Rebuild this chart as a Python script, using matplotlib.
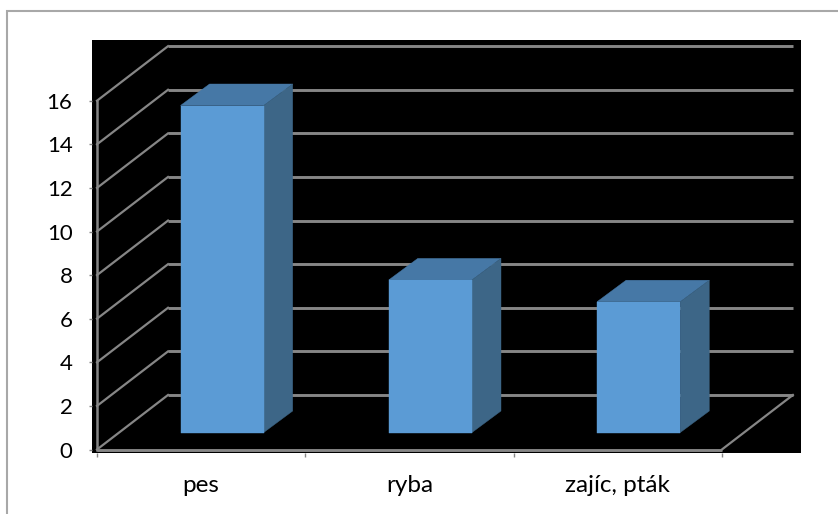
import matplotlib
matplotlib.use("Agg")
import matplotlib.pyplot as plt
from matplotlib.lines import Line2D
from matplotlib.patches import Polygon, Rectangle

categories = ["pes", "ryba", "zajíc, pták"]
values = [15, 7, 6]
y_ticks = [0, 2, 4, 6, 8, 10, 12, 14, 16]

W, H = 838, 514
GRID = "#868686"
FRONT = "#5b9bd5"
TOP = "#4678a6"
SIDE = "#3d6687"

# pixel geometry of the plot
LEFT, RIGHT, TOP_PX, BOTTOM = 92, 801, 40, 453
X0, CAT_W = 97, 208.3
Y0, UNIT = 449.5, 21.8

# oblique offsets in data units
DEPTH_X, DEPTH_Y = 71 / CAT_W, 54.5 / UNIT
BAR_W, BAR_GAP = 83.2 / CAT_W, 61.5 / CAT_W
BAR_DX, BAR_DY = 29 / CAT_W, 21.5 / UNIT
BAR_OFF_X, BAR_OFF_Y = 22 / CAT_W, 17 / UNIT

plt.rcParams["font.family"] = ["Lato", "DejaVu Sans"]

fig = plt.figure(figsize=(W / 100, H / 100), dpi=100)
ax = fig.add_axes([LEFT / W, 1 - BOTTOM / H, (RIGHT - LEFT) / W, (BOTTOM - TOP_PX) / H])
ax.set_facecolor("black")
ax.set_xlim((LEFT - X0) / CAT_W, (RIGHT - X0) / CAT_W)
ax.set_ylim((Y0 - BOTTOM) / UNIT, (Y0 - TOP_PX) / UNIT)
for s in ax.spines.values():
    s.set_visible(False)

n = len(categories)

# back wall and side wall grid
for v in y_ticks:
    ax.plot([DEPTH_X, n + DEPTH_X], [v + DEPTH_Y, v + DEPTH_Y],
            color=GRID, lw=2.1, solid_capstyle="butt", zorder=1)
    ax.plot([0, DEPTH_X], [v, v + DEPTH_Y], color=GRID, lw=1.6, zorder=1)

# floor and front axes
ax.plot([0, n], [0, 0], color=GRID, lw=2.1, solid_capstyle="butt", zorder=1)
ax.plot([n, n + DEPTH_X], [0, DEPTH_Y], color=GRID, lw=1.6, zorder=1)
ax.plot([0, 0], [0, y_ticks[-1]], color=GRID, lw=1.8, zorder=1)

for i, v in enumerate(values):
    x1 = i + BAR_GAP + BAR_OFF_X
    x2 = x1 + BAR_W
    y1 = BAR_OFF_Y
    y2 = y1 + v
    ax.add_patch(Polygon([(x1, y2), (x2, y2), (x2 + BAR_DX, y2 + BAR_DY), (x1 + BAR_DX, y2 + BAR_DY)],
                         fc=TOP, ec=TOP, lw=0.3, zorder=3))
    ax.add_patch(Polygon([(x2, y1), (x2 + BAR_DX, y1 + BAR_DY), (x2 + BAR_DX, y2 + BAR_DY), (x2, y2)],
                         fc=SIDE, ec=SIDE, lw=0.3, zorder=3))
    ax.add_patch(Rectangle((x1, y1), BAR_W, v, fc=FRONT, ec=FRONT, lw=0.3, zorder=4))

ax.set_yticks(y_ticks)
ax.tick_params(axis="y", length=2.5, width=1, color=GRID, labelsize=16, pad=11.5, labelcolor="black")
ax.set_xticks(range(n + 1))
ax.set_xticklabels([""] * (n + 1))
ax.set_xticks([i + 0.5 for i in range(n)], minor=True)
ax.set_xticklabels(categories, minor=True)
ax.tick_params(axis="x", which="major", length=3, width=1, color=GRID)
ax.tick_params(axis="x", which="minor", length=0, labelsize=17.5, pad=15.5, labelcolor="black")

# chart frame, only the top and left edges show in the crop
fig.add_artist(Line2D([7 / W, 7 / W, 1], [0, 1 - 10.5 / H, 1 - 10.5 / H], transform=fig.transFigure,
                      color="#a8a8a8", lw=1.5, solid_joinstyle="miter"))

fig.savefig("out.png", dpi=100)
